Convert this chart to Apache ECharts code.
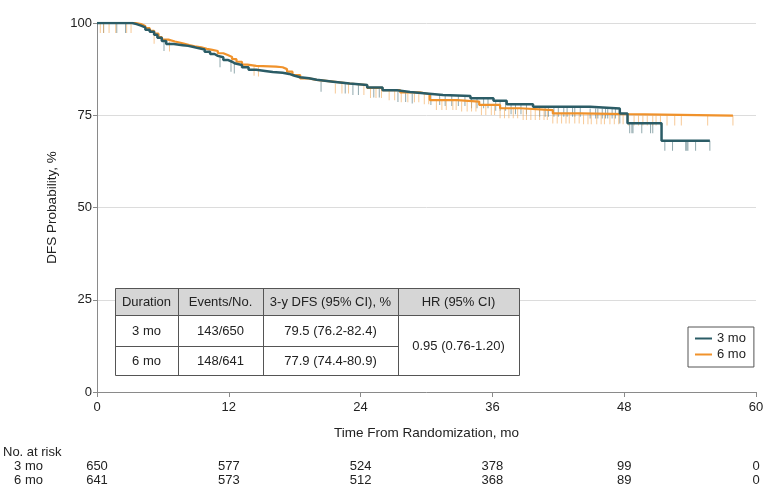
<!DOCTYPE html>
<html>
<head>
<meta charset="utf-8">
<script src="https://cdn.jsdelivr.net/npm/echarts@6/dist/echarts.min.js"></script>
<style>html,body{margin:0;padding:0;background:#fff}#c{width:780px;height:501px}</style>
</head>
<body>
<div id="c"></div>
<script>
// ---- data ----
const xTicks = [0, 12, 24, 36, 48, 60];
const yTicks = [0, 25, 50, 75, 100];
const armNames = ['3 mo', '6 mo'];

// Kaplan-Meier step points (time in months, DFS %)
const time3 = [0, 3.2, 3.6, 4.0, 4.4, 4.8, 5.2, 5.5, 5.9, 6.3, 7.0, 7.8, 8.3, 8.8, 9.2, 9.8, 10.3, 10.7, 11.0, 11.5, 11.9, 12.3, 12.6, 13.2, 13.8, 14.5, 15.3, 16.0, 16.9, 17.5, 18.0, 18.5, 19.3, 20.0, 21.5, 23.0, 24.6, 26.0, 27.3, 28.5, 30.0, 31.5, 34.0, 36.1, 37.3, 39.7, 44.9, 47.6, 48.3, 51.4];
const surv3 = [100, 99.7, 99.3, 98.8, 98.2, 97.6, 96.8, 96.0, 95.1, 94.3, 94.0, 93.8, 93.5, 93.2, 92.8, 92.2, 91.6, 91.1, 90.7, 90.0, 89.5, 89.0, 88.6, 88.0, 87.3, 87.0, 86.7, 86.5, 86.2, 85.7, 85.3, 85.0, 84.6, 84.1, 83.6, 83.2, 82.5, 81.8, 81.3, 80.9, 80.5, 80.2, 79.6, 78.9, 78.0, 77.3, 76.8, 75.5, 72.8, 68.1];
const end3 = 55.8;

const time6 = [0, 3.5, 4.0, 4.4, 4.8, 5.2, 5.6, 5.9, 6.5, 7.1, 7.8, 8.4, 8.9, 9.5, 10.0, 10.5, 11.0, 11.5, 11.9, 12.3, 12.7, 13.2, 13.7, 14.5, 16.3, 16.9, 17.3, 17.8, 18.5, 19.3, 20.0, 21.5, 23.0, 24.6, 26.0, 27.6, 29.4, 30.3, 32.8, 34.8, 36.7, 38.5, 41.5, 44.0, 48.2];
const surv6 = [100, 99.7, 99.2, 98.6, 97.9, 97.1, 96.2, 95.5, 95.0, 94.5, 94.0, 93.7, 93.4, 93.0, 92.7, 92.4, 91.8, 91.3, 90.8, 90.2, 89.5, 88.7, 88.4, 88.2, 88.0, 87.5, 86.8, 85.9, 85.0, 84.6, 84.1, 83.6, 83.2, 82.4, 81.8, 81.2, 80.7, 79.1, 78.7, 77.8, 76.9, 76.4, 75.5, 75.3, 74.9];
const end6 = 57.9;

// censored observations (months)
const cens3 = [0.6, 1.8, 2.6, 6.1, 11.2, 12.2, 12.5, 20.4, 22.6, 23.3, 23.8, 25.2, 25.7, 27.4, 28.1, 28.7, 30.4, 31.2, 31.7, 32.3, 32.9, 33.5, 34.1, 34.6, 35.2, 35.6, 36.3, 36.7, 37.2, 37.7, 38.1, 38.6, 39.1, 40.3, 40.8, 41.1, 41.6, 42.0, 42.5, 42.8, 43.3, 43.5, 44.0, 44.9, 45.4, 45.6, 46.0, 46.3, 46.5, 46.9, 47.2, 47.6, 48.5, 48.7, 48.8, 49.6, 50.4, 50.6, 51.7, 52.4, 53.6, 53.7, 53.8, 54.5, 55.8];
const cens6 = [0.3, 0.6, 1.1, 1.7, 2.7, 3.1, 5.2, 6.6, 14.3, 14.7, 21.7, 22.3, 22.9, 24.3, 24.9, 25.4, 25.9, 26.6, 27.1, 27.7, 28.3, 28.9, 29.3, 29.8, 30.2, 30.9, 31.4, 31.8, 32.4, 32.7, 33.2, 33.7, 34.1, 34.5, 35.0, 35.4, 35.9, 36.2, 36.7, 37.1, 37.5, 37.9, 38.3, 38.8, 39.1, 39.5, 39.9, 40.3, 40.7, 41.0, 41.5, 41.9, 42.3, 42.7, 43.0, 43.5, 43.9, 44.3, 44.7, 45.0, 45.5, 45.9, 46.2, 46.7, 47.1, 47.5, 47.9, 48.4, 48.9, 49.3, 49.7, 50.1, 50.6, 50.9, 51.3, 51.9, 52.6, 53.2, 55.6, 57.9];

// number at risk
const riskTimes = [0, 12, 24, 36, 48, 60];
const risk3 = [650, 577, 524, 378, 99, 0];
const risk6 = [641, 573, 512, 368, 89, 0];

// summary table
const tableHeader = ['Duration', 'Events/No.', '3-y DFS (95% CI), %', 'HR (95% CI)'];
const tableRows = [
  ['3 mo', '143/650', '79.5 (76.2-82.4)'],
  ['6 mo', '148/641', '77.9 (74.4-80.9)']
];
const hrText = '0.95 (0.76-1.20)';

// ---- build ----
const C3 = '#2b5c66', C6 = '#f0922b';
const C3c = 'rgba(70,110,118,0.75)', C6c = 'rgba(243,170,90,0.8)';
const FONT = "'Liberation Sans', Arial, sans-serif";

function stepData(t, s, end) {
  const d = t.map((v, i) => [v, s[i]]);
  d.push([end, s[s.length - 1]]);
  return d;
}
function survAt(t, s, x) {
  let v = s[0];
  for (let i = 0; i < t.length; i++) { if (t[i] <= x) v = s[i]; }
  return v;
}
const censData3 = cens3.map(x => [x, survAt(time3, surv3, x)]);
const censData6 = cens6.map(x => [x, survAt(time6, surv6, x)]);

const chart = echarts.init(document.getElementById('c'), null, {renderer: 'canvas'});

const option = {
  animation: false,
  textStyle: {fontFamily: FONT},
  grid: {left: 97, right: 24, top: 23, bottom: 109, containLabel: false},
  xAxis: {
    type: 'value', min: 0, max: 60, interval: 12,
    name: 'Time From Randomization, mo', nameLocation: 'middle', nameGap: 34,
    nameTextStyle: {fontSize: 13.5, color: '#222', fontFamily: FONT},
    axisLine: {show: true, onZero: false, lineStyle: {color: '#8a8a8a', width: 1}},
    axisTick: {show: true, length: 5, lineStyle: {color: '#8a8a8a'}},
    axisLabel: {fontSize: 13, color: '#222', margin: 9, fontFamily: FONT},
    splitLine: {show: false}
  },
  yAxis: {
    type: 'value', min: 0, max: 100, interval: 25,
    name: 'DFS Probability, %', nameLocation: 'middle', nameGap: 33, nameRotate: 90,
    nameTextStyle: {fontSize: 13.5, color: '#222', fontFamily: FONT},
    axisLine: {show: true, lineStyle: {color: '#8a8a8a', width: 1}},
    axisTick: {show: true, length: 4, lineStyle: {color: '#8a8a8a'}},
    axisLabel: {fontSize: 13, color: '#222', margin: 5, fontFamily: FONT},
    splitLine: {show: true, lineStyle: {color: '#dcdcdc', width: 1}}
  },
  legend: {
    data: armNames,
    orient: 'vertical', left: 688, top: 327,
    borderColor: '#555', borderWidth: 1, borderRadius: 0,
    padding: [5, 8, 6, 7], itemGap: 3,
    itemWidth: 17, itemHeight: 2, icon: 'rect',
    textStyle: {fontSize: 13, color: '#222', fontFamily: FONT}
  },
  series: [
    {
      name: 'c3', type: 'scatter', data: censData3, z: 2, silent: true,
      symbol: 'rect', symbolSize: [1, 10], symbolOffset: [0, 5],
      itemStyle: {color: C3c}
    },
    {
      name: 'c6', type: 'scatter', data: censData6, z: 2, silent: true,
      symbol: 'rect', symbolSize: [1, 10], symbolOffset: [0, 5],
      itemStyle: {color: C6c}
    },
    {
      name: armNames[1], type: 'line', step: 'end', data: stepData(time6, surv6, end6),
      showSymbol: false, z: 3, lineStyle: {color: C6, width: 2.2}, itemStyle: {color: C6}
    },
    {
      name: armNames[0], type: 'line', step: 'end', data: stepData(time3, surv3, end3),
      showSymbol: false, z: 4, lineStyle: {color: C3, width: 2.5}, itemStyle: {color: C3}
    }
  ]
};
chart.setOption(option);

// ---- graphics: summary table + numbers at risk ----
const g = [];
const tx = [115, 178, 263, 398, 519];   // column edges
const ty = [288, 315, 346, 375];        // row edges
const tStyle = (txt, x, y) => ({
  type: 'text', x: x, y: y, z: 20,
  style: {text: txt, fill: '#222', font: '13px ' + FONT, textAlign: 'center', textVerticalAlign: 'middle'}
});
g.push({type: 'rect', z: 15, shape: {x: tx[0], y: ty[0], width: tx[4] - tx[0], height: ty[1] - ty[0]}, style: {fill: '#d6d6d6'}});
g.push({type: 'rect', z: 15, shape: {x: tx[0], y: ty[1], width: tx[4] - tx[0], height: ty[3] - ty[1]}, style: {fill: '#fff'}});
g.push({type: 'rect', z: 18, shape: {x: tx[0] + 0.5, y: ty[0] + 0.5, width: tx[4] - tx[0], height: ty[3] - ty[0]}, style: {fill: 'none', stroke: '#555', lineWidth: 1}});
for (let i = 1; i < 4; i++) {
  g.push({type: 'line', z: 18, shape: {x1: tx[i] + 0.5, y1: ty[0], x2: tx[i] + 0.5, y2: ty[3]}, style: {stroke: '#555', lineWidth: 1}});
}
g.push({type: 'line', z: 18, shape: {x1: tx[0], y1: ty[1] + 0.5, x2: tx[4], y2: ty[1] + 0.5}, style: {stroke: '#555', lineWidth: 1}});
g.push({type: 'line', z: 18, shape: {x1: tx[0], y1: ty[2] + 0.5, x2: tx[3], y2: ty[2] + 0.5}, style: {stroke: '#555', lineWidth: 1}});
tableHeader.forEach((h, i) => g.push(tStyle(h, (tx[i] + tx[i + 1]) / 2, (ty[0] + ty[1]) / 2 + 1)));
tableRows.forEach((row, r) => row.forEach((c, i) => g.push(tStyle(c, (tx[i] + tx[i + 1]) / 2, (ty[r + 1] + ty[r + 2]) / 2 + 1))));
g.push(tStyle(hrText, (tx[3] + tx[4]) / 2, (ty[1] + ty[3]) / 2 + 1));
// keep the area right of the plot clean
g.push({type: 'rect', z: 50, silent: true, shape: {x: 758, y: 30, width: 22, height: 280}, style: {fill: '#fff'}});

// numbers at risk
const riskY = [466, 480];
g.push({type: 'text', x: 3, y: 452, style: {text: 'No. at risk', fill: '#222', font: '13px ' + FONT, textAlign: 'left', textVerticalAlign: 'middle'}});
[risk3, risk6].forEach((arr, k) => {
  g.push({type: 'text', x: 43, y: riskY[k], style: {text: armNames[k], fill: '#222', font: '13px ' + FONT, textAlign: 'right', textVerticalAlign: 'middle'}});
  arr.forEach((n, i) => {
    const px = chart.convertToPixel({xAxisIndex: 0}, riskTimes[i]);
    g.push({type: 'text', x: px, y: riskY[k], style: {text: String(n), fill: '#222', font: '13px ' + FONT, textAlign: 'center', textVerticalAlign: 'middle'}});
  });
});
chart.setOption({graphic: {elements: g}});
</script>
</body>
</html>
